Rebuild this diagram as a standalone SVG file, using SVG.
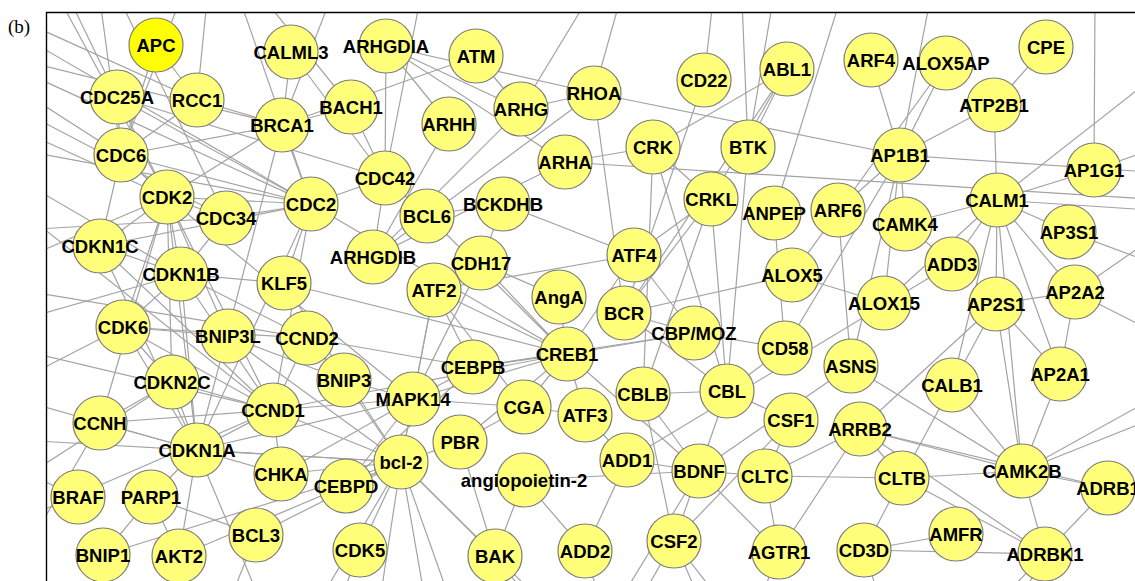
<svg xmlns="http://www.w3.org/2000/svg" width="1135" height="581" viewBox="0 0 1135 581">
<style>
.e line{stroke:#a3a3a3;stroke-width:1.2}
.n circle{fill:#ffff7a;stroke:#7c7c7c;stroke-width:1.2}
.n text{font-family:"Liberation Sans",Arial,sans-serif;font-weight:bold;font-size:18.5px;text-anchor:middle;fill:#000}
#APC circle{fill:#ffff00}
.frame{stroke:#000;stroke-width:1.4;fill:none}
</style>
<defs>
<clipPath id="panel"><rect x="46" y="12" width="1089" height="569"/></clipPath>
</defs>
<rect width="1135" height="581" fill="#fff"/>
<text x="8" y="33" font-family="'Liberation Serif',serif" font-size="19">(b)</text>
<g id="connectors" class="e" clip-path="url(#panel)">
<!-- cell-cycle cluster -->
<line x1="167" y1="197" x2="181" y2="274"/>
<line x1="167" y1="197" x2="226" y2="218"/>
<line x1="167" y1="197" x2="121" y2="155"/>
<line x1="167" y1="197" x2="117" y2="97"/>
<line x1="167" y1="197" x2="100" y2="246"/>
<line x1="167" y1="197" x2="197" y2="450"/>
<line x1="167" y1="197" x2="273" y2="410"/>
<line x1="167" y1="197" x2="311" y2="204"/>
<line x1="167" y1="197" x2="282" y2="125"/>
<line x1="167" y1="197" x2="123" y2="327"/>
<line x1="167" y1="197" x2="100" y2="423"/>
<line x1="167" y1="197" x2="172" y2="382"/>
<line x1="167" y1="197" x2="413" y2="399"/>
<line x1="181" y1="274" x2="123" y2="327"/>
<line x1="181" y1="274" x2="273" y2="410"/>
<line x1="181" y1="274" x2="307" y2="338"/>
<line x1="181" y1="274" x2="100" y2="246"/>
<line x1="181" y1="274" x2="226" y2="218"/>
<line x1="181" y1="274" x2="197" y2="450"/>
<line x1="121" y1="155" x2="117" y2="97"/>
<line x1="121" y1="155" x2="100" y2="246"/>
<line x1="121" y1="155" x2="197" y2="100"/>
<line x1="121" y1="155" x2="282" y2="125"/>
<line x1="121" y1="155" x2="311" y2="204"/>
<line x1="117" y1="97" x2="311" y2="204"/>
<line x1="117" y1="97" x2="385" y2="178"/>
<line x1="100" y1="246" x2="311" y2="204"/>
<line x1="100" y1="246" x2="273" y2="410"/>
<line x1="100" y1="246" x2="197" y2="450"/>
<line x1="311" y1="204" x2="273" y2="410"/>
<line x1="311" y1="204" x2="282" y2="125"/>
<line x1="311" y1="204" x2="197" y2="450"/>
<line x1="311" y1="204" x2="226" y2="218"/>
<line x1="311" y1="204" x2="567" y2="354"/>
<line x1="123" y1="327" x2="172" y2="382"/>
<line x1="123" y1="327" x2="273" y2="410"/>
<line x1="123" y1="327" x2="307" y2="338"/>
<line x1="123" y1="327" x2="197" y2="450"/>
<line x1="123" y1="327" x2="228" y2="336"/>
<line x1="172" y1="382" x2="273" y2="410"/>
<line x1="172" y1="382" x2="197" y2="450"/>
<line x1="172" y1="382" x2="100" y2="423"/>
<line x1="100" y1="423" x2="197" y2="450"/>
<line x1="100" y1="423" x2="273" y2="410"/>
<line x1="197" y1="450" x2="151" y2="497"/>
<line x1="197" y1="450" x2="273" y2="410"/>
<line x1="197" y1="450" x2="401" y2="462"/>
<line x1="197" y1="450" x2="281" y2="474"/>
<line x1="197" y1="450" x2="413" y2="399"/>
<line x1="282" y1="125" x2="351" y2="107"/>
<line x1="282" y1="125" x2="197" y2="100"/>
<line x1="282" y1="125" x2="197" y2="450"/>
<line x1="273" y1="410" x2="307" y2="338"/>
<line x1="273" y1="410" x2="281" y2="474"/>
<line x1="273" y1="410" x2="413" y2="399"/>
<line x1="273" y1="410" x2="567" y2="354"/>
<line x1="284" y1="283" x2="181" y2="274"/>
<line x1="284" y1="283" x2="311" y2="204"/>
<line x1="284" y1="283" x2="567" y2="354"/>
<line x1="228" y1="336" x2="167" y2="197"/>
<line x1="307" y1="338" x2="473" y2="367"/>
<!-- bcl-2 fan -->
<line x1="401" y1="462" x2="344" y2="380"/>
<line x1="401" y1="462" x2="228" y2="336"/>
<line x1="401" y1="462" x2="413" y2="399"/>
<line x1="401" y1="462" x2="460" y2="442"/>
<line x1="401" y1="462" x2="346" y2="486"/>
<line x1="401" y1="462" x2="360" y2="550"/>
<line x1="401" y1="462" x2="495" y2="556"/>
<line x1="401" y1="462" x2="256" y2="535"/>
<line x1="401" y1="462" x2="281" y2="474"/>
<line x1="401" y1="462" x2="103" y2="555"/>
<line x1="401" y1="462" x2="179" y2="556"/>
<line x1="401" y1="462" x2="273" y2="410"/>
<line x1="401" y1="462" x2="434" y2="290"/>
<line x1="401" y1="462" x2="284" y2="283"/>
<line x1="401" y1="462" x2="380" y2="600"/>
<line x1="401" y1="462" x2="425" y2="600"/>
<line x1="401" y1="462" x2="450" y2="600"/>
<line x1="401" y1="462" x2="320" y2="600"/>
<line x1="401" y1="462" x2="540" y2="600"/>
<line x1="151" y1="497" x2="103" y2="555"/>
<line x1="151" y1="497" x2="179" y2="556"/>
<line x1="151" y1="497" x2="256" y2="535"/>
<line x1="179" y1="556" x2="197" y2="450"/>
<line x1="346" y1="486" x2="473" y2="367"/>
<line x1="346" y1="486" x2="413" y2="399"/>
<line x1="281" y1="474" x2="413" y2="399"/>
<line x1="344" y1="380" x2="228" y2="336"/>
<line x1="344" y1="380" x2="307" y2="338"/>
<line x1="344" y1="380" x2="413" y2="399"/>
<!-- rho family -->
<line x1="386" y1="46" x2="449" y2="124"/>
<line x1="386" y1="46" x2="521" y2="109"/>
<line x1="386" y1="46" x2="594" y2="93"/>
<line x1="386" y1="46" x2="385" y2="178"/>
<line x1="386" y1="46" x2="565" y2="162"/>
<line x1="373" y1="257" x2="385" y2="178"/>
<line x1="373" y1="257" x2="565" y2="162"/>
<line x1="373" y1="257" x2="594" y2="93"/>
<line x1="373" y1="257" x2="521" y2="109"/>
<line x1="373" y1="257" x2="449" y2="124"/>
<line x1="385" y1="178" x2="351" y2="107"/>
<line x1="385" y1="178" x2="311" y2="204"/>
<line x1="385" y1="178" x2="427" y2="215"/>
<line x1="476" y1="56" x2="282" y2="125"/>
<line x1="476" y1="56" x2="521" y2="109"/>
<line x1="521" y1="109" x2="594" y2="93"/>
<line x1="594" y1="93" x2="624" y2="313"/>
<line x1="594" y1="93" x2="900" y2="155"/>
<line x1="565" y1="162" x2="1150" y2="199"/>
<line x1="565" y1="162" x2="653" y2="147"/>
<line x1="291" y1="52" x2="282" y2="125"/>
<line x1="291" y1="52" x2="385" y2="178"/>
<line x1="156" y1="45" x2="197" y2="100"/>
<line x1="156" y1="45" x2="121" y2="155"/>
<line x1="427" y1="215" x2="567" y2="354"/>
<line x1="427" y1="215" x2="503" y2="204"/>
<line x1="503" y1="204" x2="481" y2="263"/>
<line x1="503" y1="204" x2="634" y2="255"/>
<line x1="481" y1="263" x2="567" y2="354"/>
<line x1="481" y1="263" x2="413" y2="399"/>
<line x1="481" y1="263" x2="559" y2="297"/>
<!-- signalling middle -->
<line x1="704" y1="80" x2="624" y2="313"/>
<line x1="787" y1="69" x2="653" y2="147"/>
<line x1="787" y1="69" x2="748" y2="147"/>
<line x1="787" y1="69" x2="711" y2="199"/>
<line x1="787" y1="69" x2="624" y2="313"/>
<line x1="748" y1="147" x2="727" y2="391"/>
<line x1="653" y1="147" x2="711" y2="199"/>
<line x1="653" y1="147" x2="727" y2="391"/>
<line x1="653" y1="147" x2="643" y2="394"/>
<line x1="711" y1="199" x2="727" y2="391"/>
<line x1="711" y1="199" x2="643" y2="394"/>
<line x1="711" y1="199" x2="624" y2="313"/>
<line x1="711" y1="199" x2="634" y2="255"/>
<line x1="774" y1="213" x2="785" y2="348"/>
<line x1="567" y1="354" x2="473" y2="367"/>
<line x1="567" y1="354" x2="694" y2="333"/>
<line x1="567" y1="354" x2="434" y2="290"/>
<line x1="567" y1="354" x2="634" y2="255"/>
<line x1="567" y1="354" x2="559" y2="297"/>
<line x1="567" y1="354" x2="524" y2="407"/>
<line x1="567" y1="354" x2="413" y2="399"/>
<line x1="567" y1="354" x2="585" y2="415"/>
<line x1="567" y1="354" x2="699" y2="471"/>
<line x1="567" y1="354" x2="460" y2="442"/>
<line x1="473" y1="367" x2="413" y2="399"/>
<line x1="473" y1="367" x2="694" y2="333"/>
<line x1="473" y1="367" x2="434" y2="290"/>
<line x1="434" y1="290" x2="634" y2="255"/>
<line x1="434" y1="290" x2="413" y2="399"/>
<line x1="434" y1="290" x2="524" y2="407"/>
<line x1="634" y1="255" x2="694" y2="333"/>
<line x1="624" y1="313" x2="694" y2="333"/>
<line x1="624" y1="313" x2="727" y2="391"/>
<line x1="727" y1="391" x2="643" y2="394"/>
<line x1="727" y1="391" x2="791" y2="420"/>
<line x1="727" y1="391" x2="785" y2="348"/>
<line x1="727" y1="391" x2="699" y2="471"/>
<line x1="643" y1="394" x2="699" y2="471"/>
<line x1="643" y1="394" x2="674" y2="541"/>
<line x1="524" y1="407" x2="585" y2="415"/>
<line x1="524" y1="407" x2="460" y2="442"/>
<line x1="585" y1="415" x2="627" y2="460"/>
<line x1="791" y1="420" x2="674" y2="541"/>
<line x1="791" y1="420" x2="765" y2="476"/>
<line x1="699" y1="471" x2="674" y2="541"/>
<line x1="699" y1="471" x2="627" y2="460"/>
<line x1="699" y1="471" x2="765" y2="476"/>
<line x1="699" y1="471" x2="779" y2="552"/>
<line x1="699" y1="471" x2="524" y2="480"/>
<line x1="627" y1="460" x2="585" y2="551"/>
<line x1="627" y1="460" x2="952" y2="264"/>
<line x1="765" y1="476" x2="902" y2="478"/>
<line x1="765" y1="476" x2="860" y2="429"/>
<line x1="765" y1="476" x2="779" y2="552"/>
<line x1="779" y1="552" x2="860" y2="429"/>
<line x1="524" y1="480" x2="495" y2="556"/>
<line x1="524" y1="480" x2="585" y2="551"/>
<line x1="460" y1="442" x2="495" y2="556"/>
<line x1="524" y1="407" x2="413" y2="399"/>
<line x1="785" y1="348" x2="694" y2="333"/>
<line x1="792" y1="275" x2="946" y2="63"/>
<line x1="792" y1="275" x2="884" y2="303"/>
<line x1="792" y1="275" x2="624" y2="313"/>
<line x1="838" y1="210" x2="900" y2="155"/>
<line x1="838" y1="210" x2="851" y2="366"/>
<line x1="851" y1="366" x2="699" y2="471"/>
<line x1="851" y1="366" x2="1022" y2="471"/>
<!-- calcium / trafficking cluster -->
<line x1="997" y1="200" x2="905" y2="224"/>
<line x1="997" y1="200" x2="952" y2="264"/>
<line x1="997" y1="200" x2="996" y2="304"/>
<line x1="997" y1="200" x2="994" y2="105"/>
<line x1="997" y1="200" x2="1094" y2="170"/>
<line x1="997" y1="200" x2="1069" y2="232"/>
<line x1="997" y1="200" x2="952" y2="385"/>
<line x1="997" y1="200" x2="1022" y2="471"/>
<line x1="997" y1="200" x2="1075" y2="292"/>
<line x1="997" y1="200" x2="1060" y2="374"/>
<line x1="997" y1="200" x2="884" y2="303"/>
<line x1="900" y1="155" x2="871" y2="60"/>
<line x1="900" y1="155" x2="946" y2="63"/>
<line x1="900" y1="155" x2="994" y2="105"/>
<line x1="900" y1="155" x2="905" y2="224"/>
<line x1="900" y1="155" x2="1150" y2="172"/>
<line x1="900" y1="155" x2="884" y2="303"/>
<line x1="900" y1="155" x2="785" y2="348"/>
<line x1="900" y1="155" x2="851" y2="366"/>
<line x1="994" y1="105" x2="1046" y2="47"/>
<line x1="996" y1="304" x2="1075" y2="292"/>
<line x1="996" y1="304" x2="1060" y2="374"/>
<line x1="996" y1="304" x2="952" y2="385"/>
<line x1="996" y1="304" x2="860" y2="429"/>
<line x1="996" y1="304" x2="1022" y2="471"/>
<line x1="1022" y1="471" x2="952" y2="385"/>
<line x1="1022" y1="471" x2="902" y2="478"/>
<line x1="1022" y1="471" x2="1108" y2="488"/>
<line x1="1022" y1="471" x2="1045" y2="554"/>
<line x1="1022" y1="471" x2="860" y2="429"/>
<line x1="1022" y1="471" x2="1060" y2="374"/>
<line x1="1022" y1="471" x2="1150" y2="400"/>
<line x1="902" y1="478" x2="860" y2="429"/>
<line x1="902" y1="478" x2="864" y2="550"/>
<line x1="902" y1="478" x2="1045" y2="554"/>
<line x1="902" y1="478" x2="952" y2="385"/>
<line x1="860" y1="429" x2="1045" y2="554"/>
<line x1="860" y1="429" x2="1108" y2="488"/>
<line x1="1045" y1="554" x2="1108" y2="488"/>
<line x1="1045" y1="554" x2="864" y2="550"/>
<line x1="956" y1="534" x2="864" y2="550"/>
<line x1="1075" y1="292" x2="1060" y2="374"/>
<line x1="952" y1="264" x2="905" y2="224"/>
<!-- edges leaving the panel -->
<line x1="20" y1="20" x2="197" y2="100"/>
<line x1="20" y1="35" x2="311" y2="204"/>
<line x1="20" y1="70" x2="311" y2="204"/>
<line x1="20" y1="90" x2="121" y2="155"/>
<line x1="20" y1="130" x2="167" y2="197"/>
<line x1="20" y1="180" x2="181" y2="274"/>
<line x1="20" y1="230" x2="226" y2="218"/>
<line x1="20" y1="290" x2="307" y2="338"/>
<line x1="20" y1="350" x2="273" y2="410"/>
<line x1="20" y1="400" x2="197" y2="450"/>
<line x1="20" y1="440" x2="401" y2="462"/>
<line x1="20" y1="480" x2="172" y2="382"/>
<line x1="20" y1="520" x2="273" y2="410"/>
<line x1="20" y1="150" x2="311" y2="204"/>
<line x1="20" y1="260" x2="167" y2="197"/>
<line x1="20" y1="320" x2="181" y2="274"/>
<line x1="20" y1="60" x2="282" y2="125"/>
<line x1="20" y1="110" x2="226" y2="218"/>
<line x1="20" y1="210" x2="273" y2="410"/>
<line x1="20" y1="380" x2="123" y2="327"/>
<line x1="20" y1="560" x2="100" y2="423"/>
<line x1="20" y1="470" x2="78" y2="497"/>
<line x1="100" y1="0" x2="121" y2="155"/>
<line x1="60" y1="0" x2="167" y2="197"/>
<line x1="70" y1="0" x2="117" y2="97"/>
<line x1="120" y1="0" x2="226" y2="218"/>
<line x1="180" y1="0" x2="121" y2="155"/>
<line x1="207" y1="0" x2="197" y2="100"/>
<line x1="240" y1="0" x2="311" y2="204"/>
<line x1="330" y1="0" x2="282" y2="125"/>
<line x1="420" y1="0" x2="385" y2="178"/>
<line x1="587" y1="0" x2="521" y2="109"/>
<line x1="620" y1="0" x2="594" y2="93"/>
<line x1="265" y1="0" x2="351" y2="107"/>
<line x1="713" y1="0" x2="704" y2="80"/>
<line x1="742" y1="0" x2="748" y2="147"/>
<line x1="773" y1="0" x2="748" y2="147"/>
<line x1="840" y1="0" x2="774" y2="213"/>
<line x1="930" y1="0" x2="900" y2="155"/>
<line x1="1095" y1="0" x2="1094" y2="170"/>
<line x1="1150" y1="262" x2="1069" y2="232"/>
<line x1="1150" y1="240" x2="1075" y2="292"/>
<line x1="1150" y1="330" x2="1075" y2="292"/>
<line x1="1150" y1="420" x2="1022" y2="471"/>
<line x1="1150" y1="210" x2="997" y2="200"/>
<line x1="1150" y1="150" x2="1094" y2="170"/>
<line x1="1150" y1="80" x2="997" y2="200"/>
<line x1="674" y1="541" x2="640" y2="600"/>
<line x1="674" y1="541" x2="700" y2="600"/>
<line x1="674" y1="541" x2="720" y2="600"/>
<line x1="699" y1="471" x2="620" y2="600"/>
<line x1="779" y1="552" x2="760" y2="600"/>
<line x1="864" y1="550" x2="880" y2="600"/>
<line x1="1045" y1="554" x2="1020" y2="600"/>
<line x1="1045" y1="554" x2="1000" y2="600"/>
<line x1="360" y1="550" x2="340" y2="600"/>
<line x1="256" y1="535" x2="230" y2="600"/>
<line x1="495" y1="556" x2="530" y2="600"/>
<line x1="197" y1="450" x2="260" y2="600"/>
<line x1="585" y1="551" x2="600" y2="600"/>
</g>
<g id="nodes">
<g id="APC" class="n" transform="translate(156,45)"><circle r="27"/><text y="6.5">APC</text></g>
<g id="CALML3" class="n" transform="translate(291,52)"><circle r="27"/><text y="6.5">CALML3</text></g>
<g id="ARHGDIA" class="n" transform="translate(386,46)"><circle r="27"/><text y="6.5">ARHGDIA</text></g>
<g id="ATM" class="n" transform="translate(476,56)"><circle r="27"/><text y="6.5">ATM</text></g>
<g id="CD22" class="n" transform="translate(704,80)"><circle r="27"/><text y="6.5">CD22</text></g>
<g id="ABL1" class="n" transform="translate(787,69)"><circle r="27"/><text y="6.5">ABL1</text></g>
<g id="ARF4" class="n" transform="translate(871,60)"><circle r="27"/><text y="6.5">ARF4</text></g>
<g id="ALOX5AP" class="n" transform="translate(946,63)"><circle r="27"/><text y="6.5">ALOX5AP</text></g>
<g id="CPE" class="n" transform="translate(1046,47)"><circle r="27"/><text y="6.5">CPE</text></g>
<g id="CDC25A" class="n" transform="translate(117,97)"><circle r="27"/><text y="6.5">CDC25A</text></g>
<g id="RCC1" class="n" transform="translate(197,100)"><circle r="27"/><text y="6.5">RCC1</text></g>
<g id="BACH1" class="n" transform="translate(351,107)"><circle r="27"/><text y="6.5">BACH1</text></g>
<g id="BRCA1" class="n" transform="translate(282,125)"><circle r="27"/><text y="6.5">BRCA1</text></g>
<g id="ARHH" class="n" transform="translate(449,124)"><circle r="27"/><text y="6.5">ARHH</text></g>
<g id="ARHG" class="n" transform="translate(521,109)"><circle r="27"/><text y="6.5">ARHG</text></g>
<g id="RHOA" class="n" transform="translate(594,93)"><circle r="27"/><text y="6.5">RHOA</text></g>
<g id="ATP2B1" class="n" transform="translate(994,105)"><circle r="27"/><text y="6.5">ATP2B1</text></g>
<g id="CDC6" class="n" transform="translate(121,155)"><circle r="27"/><text y="6.5">CDC6</text></g>
<g id="CRK" class="n" transform="translate(653,147)"><circle r="27"/><text y="6.5">CRK</text></g>
<g id="BTK" class="n" transform="translate(748,147)"><circle r="27"/><text y="6.5">BTK</text></g>
<g id="AP1B1" class="n" transform="translate(900,155)"><circle r="27"/><text y="6.5">AP1B1</text></g>
<g id="ARHA" class="n" transform="translate(565,162)"><circle r="27"/><text y="6.5">ARHA</text></g>
<g id="AP1G1" class="n" transform="translate(1094,170)"><circle r="27"/><text y="6.5">AP1G1</text></g>
<g id="CDC42" class="n" transform="translate(385,178)"><circle r="27"/><text y="6.5">CDC42</text></g>
<g id="CDK2" class="n" transform="translate(167,197)"><circle r="27"/><text y="6.5">CDK2</text></g>
<g id="CDC34" class="n" transform="translate(226,218)"><circle r="27"/><text y="6.5">CDC34</text></g>
<g id="CDC2" class="n" transform="translate(311,204)"><circle r="27"/><text y="6.5">CDC2</text></g>
<g id="BCL6" class="n" transform="translate(427,216)"><circle r="27"/><text y="6.5">BCL6</text></g>
<g id="BCKDHB" class="n" transform="translate(503,204)"><circle r="27"/><text y="6.5">BCKDHB</text></g>
<g id="CRKL" class="n" transform="translate(711,199)"><circle r="27"/><text y="6.5">CRKL</text></g>
<g id="ANPEP" class="n" transform="translate(774,213)"><circle r="27"/><text y="6.5">ANPEP</text></g>
<g id="ARF6" class="n" transform="translate(838,210)"><circle r="27"/><text y="6.5">ARF6</text></g>
<g id="CAMK4" class="n" transform="translate(905,224)"><circle r="27"/><text y="6.5">CAMK4</text></g>
<g id="CALM1" class="n" transform="translate(997,200)"><circle r="27"/><text y="6.5">CALM1</text></g>
<g id="AP3S1" class="n" transform="translate(1069,232)"><circle r="27"/><text y="6.5">AP3S1</text></g>
<g id="CDKN1C" class="n" transform="translate(100,246)"><circle r="27"/><text y="6.5">CDKN1C</text></g>
<g id="CDKN1B" class="n" transform="translate(181,274)"><circle r="27"/><text y="6.5">CDKN1B</text></g>
<g id="ARHGDIB" class="n" transform="translate(373,257)"><circle r="27"/><text y="6.5">ARHGDIB</text></g>
<g id="CDH17" class="n" transform="translate(481,263)"><circle r="27"/><text y="6.5">CDH17</text></g>
<g id="ATF4" class="n" transform="translate(634,255)"><circle r="27"/><text y="6.5">ATF4</text></g>
<g id="ALOX5" class="n" transform="translate(792,275)"><circle r="27"/><text y="6.5">ALOX5</text></g>
<g id="ADD3" class="n" transform="translate(952,264)"><circle r="27"/><text y="6.5">ADD3</text></g>
<g id="KLF5" class="n" transform="translate(284,283)"><circle r="27"/><text y="6.5">KLF5</text></g>
<g id="ATF2" class="n" transform="translate(434,290)"><circle r="27"/><text y="6.5">ATF2</text></g>
<g id="AngA" class="n" transform="translate(559,297)"><circle r="27"/><text y="6.5">AngA</text></g>
<g id="BCR" class="n" transform="translate(624,313)"><circle r="27"/><text y="6.5">BCR</text></g>
<g id="ALOX15" class="n" transform="translate(884,303)"><circle r="27"/><text y="6.5">ALOX15</text></g>
<g id="AP2S1" class="n" transform="translate(996,304)"><circle r="27"/><text y="6.5">AP2S1</text></g>
<g id="AP2A2" class="n" transform="translate(1075,292)"><circle r="27"/><text y="6.5">AP2A2</text></g>
<g id="CDK6" class="n" transform="translate(123,327)"><circle r="27"/><text y="6.5">CDK6</text></g>
<g id="BNIP3L" class="n" transform="translate(228,336)"><circle r="27"/><text y="6.5">BNIP3L</text></g>
<g id="CCND2" class="n" transform="translate(307,338)"><circle r="27"/><text y="6.5">CCND2</text></g>
<g id="CBP-MOZ" class="n" transform="translate(694,333)"><circle r="27"/><text y="6.5">CBP/MOZ</text></g>
<g id="CD58" class="n" transform="translate(785,348)"><circle r="27"/><text y="6.5">CD58</text></g>
<g id="CREB1" class="n" transform="translate(567,354)"><circle r="27"/><text y="6.5">CREB1</text></g>
<g id="CEBPB" class="n" transform="translate(473,367)"><circle r="27"/><text y="6.5">CEBPB</text></g>
<g id="ASNS" class="n" transform="translate(851,366)"><circle r="27"/><text y="6.5">ASNS</text></g>
<g id="AP2A1" class="n" transform="translate(1060,374)"><circle r="27"/><text y="6.5">AP2A1</text></g>
<g id="CALB1" class="n" transform="translate(952,385)"><circle r="27"/><text y="6.5">CALB1</text></g>
<g id="CDKN2C" class="n" transform="translate(172,382)"><circle r="27"/><text y="6.5">CDKN2C</text></g>
<g id="BNIP3" class="n" transform="translate(344,380)"><circle r="27"/><text y="6.5">BNIP3</text></g>
<g id="MAPK14" class="n" transform="translate(413,399)"><circle r="27"/><text y="6.5">MAPK14</text></g>
<g id="CGA" class="n" transform="translate(524,407)"><circle r="27"/><text y="6.5">CGA</text></g>
<g id="ATF3" class="n" transform="translate(585,415)"><circle r="27"/><text y="6.5">ATF3</text></g>
<g id="CBLB" class="n" transform="translate(643,394)"><circle r="27"/><text y="6.5">CBLB</text></g>
<g id="CBL" class="n" transform="translate(727,391)"><circle r="27"/><text y="6.5">CBL</text></g>
<g id="CSF1" class="n" transform="translate(791,420)"><circle r="27"/><text y="6.5">CSF1</text></g>
<g id="ARRB2" class="n" transform="translate(860,429)"><circle r="27"/><text y="6.5">ARRB2</text></g>
<g id="CCNH" class="n" transform="translate(100,423)"><circle r="27"/><text y="6.5">CCNH</text></g>
<g id="CCND1" class="n" transform="translate(273,410)"><circle r="27"/><text y="6.5">CCND1</text></g>
<g id="CDKN1A" class="n" transform="translate(197,450)"><circle r="27"/><text y="6.5">CDKN1A</text></g>
<g id="PBR" class="n" transform="translate(460,442)"><circle r="27"/><text y="6.5">PBR</text></g>
<g id="bcl-2" class="n" transform="translate(401,462)"><circle r="27"/><text y="6.5">bcl-2</text></g>
<g id="ADD1" class="n" transform="translate(627,460)"><circle r="27"/><text y="6.5">ADD1</text></g>
<g id="BDNF" class="n" transform="translate(699,471)"><circle r="27"/><text y="6.5">BDNF</text></g>
<g id="CLTC" class="n" transform="translate(765,476)"><circle r="27"/><text y="6.5">CLTC</text></g>
<g id="CLTB" class="n" transform="translate(902,478)"><circle r="27"/><text y="6.5">CLTB</text></g>
<g id="CAMK2B" class="n" transform="translate(1022,471)"><circle r="27"/><text y="6.5">CAMK2B</text></g>
<g id="ADRB1" class="n" transform="translate(1108,488)"><circle r="27"/><text y="6.5">ADRB1</text></g>
<g id="CHKA" class="n" transform="translate(281,474)"><circle r="27"/><text y="6.5">CHKA</text></g>
<g id="CEBPD" class="n" transform="translate(346,486)"><circle r="27"/><text y="6.5">CEBPD</text></g>
<g id="angiopoietin-2" class="n" transform="translate(524,480)"><circle r="27"/><text y="6.5">angiopoietin-2</text></g>
<g id="BRAF" class="n" transform="translate(78,497)"><circle r="27"/><text y="6.5">BRAF</text></g>
<g id="PARP1" class="n" transform="translate(151,497)"><circle r="27"/><text y="6.5">PARP1</text></g>
<g id="BCL3" class="n" transform="translate(256,535)"><circle r="27"/><text y="6.5">BCL3</text></g>
<g id="CDK5" class="n" transform="translate(360,550)"><circle r="27"/><text y="6.5">CDK5</text></g>
<g id="BAK" class="n" transform="translate(495,556)"><circle r="27"/><text y="6.5">BAK</text></g>
<g id="ADD2" class="n" transform="translate(585,551)"><circle r="27"/><text y="6.5">ADD2</text></g>
<g id="CSF2" class="n" transform="translate(674,541)"><circle r="27"/><text y="6.5">CSF2</text></g>
<g id="AGTR1" class="n" transform="translate(779,552)"><circle r="27"/><text y="6.5">AGTR1</text></g>
<g id="CD3D" class="n" transform="translate(864,550)"><circle r="27"/><text y="6.5">CD3D</text></g>
<g id="AMFR" class="n" transform="translate(956,534)"><circle r="27"/><text y="6.5">AMFR</text></g>
<g id="ADRBK1" class="n" transform="translate(1045,554)"><circle r="27"/><text y="6.5">ADRBK1</text></g>
<g id="BNIP1" class="n" transform="translate(103,555)"><circle r="27"/><text y="6.5">BNIP1</text></g>
<g id="AKT2" class="n" transform="translate(179,556)"><circle r="27"/><text y="6.5">AKT2</text></g>
</g>
<path class="frame" d="M46.5,581 V12.5 H1135"/>
</svg>
